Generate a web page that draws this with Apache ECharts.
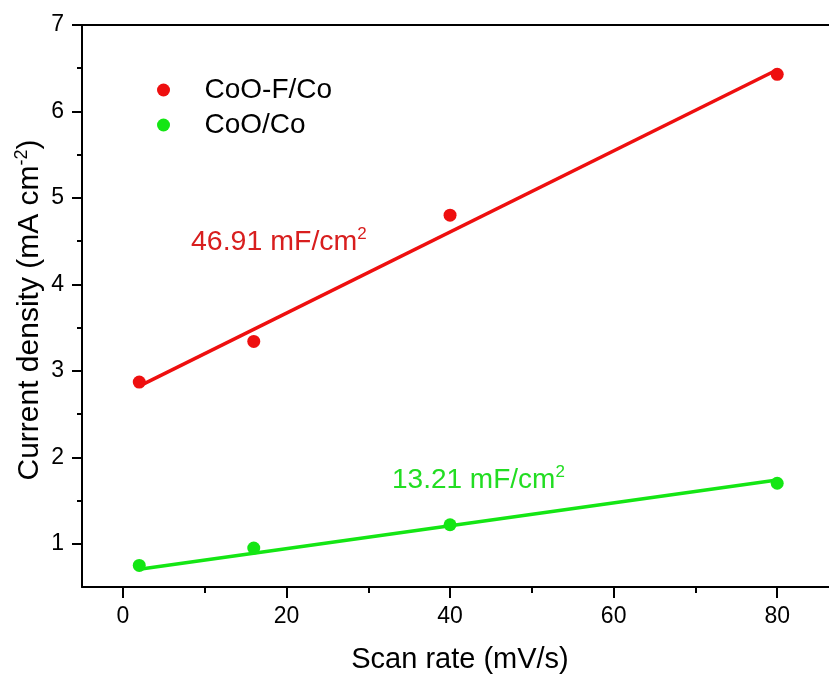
<!DOCTYPE html>
<html>
<head>
<meta charset="utf-8">
<title>Double-layer capacitance</title>
<script src="https://cdn.jsdelivr.net/npm/echarts@6/dist/echarts.min.js"></script>
<style>
  html, body { margin: 0; padding: 0; background: #fff; }
  #chart { width: 829px; height: 677px; }
</style>
</head>
<body>
<div id="chart"></div>
<script>
// Scan rates (mV/s) and measured current densities (mA cm-2)
const scanRate = [2, 16, 40, 80];
const coofCo = [2.87, 3.34, 4.80, 6.43];
const cooCo = [0.75, 0.95, 1.22, 1.70];

// Linear fits: slope in mF/cm2 (as labelled) and intercept in mA cm-2
const fitSlope = [46.91, 13.21];
const fitIntercept = [2.73, 0.68];
const fitSpan = [2, 80];

// Axis ticks
const xMajor = [0, 20, 40, 60, 80];
const xMinor = [10, 30, 50, 70];
const yMajor = [1, 2, 3, 4, 5, 6, 7];
const yMinor = [1.5, 2.5, 3.5, 4.5, 5.5, 6.5];

const seriesNames = ['CoO-F/Co', 'CoO/Co'];
const colors = ['#ee0f0f', '#14e614'];
const textColors = ['#d81e1e', '#22dd22'];

const FONT = "'Liberation Sans', Arial, sans-serif";

function fitLine(i) {
  return fitSpan.map(x => [x, fitIntercept[i] + fitSlope[i] / 1000 * x]);
}

const chart = echarts.init(document.getElementById('chart'), null, { renderer: 'canvas' });

const axisLine = { show: true, onZero: false, lineStyle: { color: '#000', width: 2 } };
const noLine = { show: false, onZero: false };

const option = {
  animation: false,
  backgroundColor: '#fff',
  textStyle: { fontFamily: FONT },
  grid: {
    left: 82, top: 25, right: -30, bottom: 90,
    containLabel: false, outerBoundsMode: 'none'
  },
  legend: {
    data: seriesNames.map(n => ({ name: n, icon: 'circle' })),
    orient: 'vertical',
    left: 152, top: 70,
    itemWidth: 72, itemHeight: 13, itemGap: 5,
    textStyle: { fontSize: 28, lineHeight: 30, color: '#000', fontFamily: FONT },
    selectedMode: false
  },
  xAxis: [
    {
      type: 'value', position: 'bottom', min: -5, max: 90,
      axisLine: axisLine,
      axisTick: { show: true, inside: false, length: 11, customValues: xMajor,
                  lineStyle: { color: '#000', width: 2 } },
      axisLabel: { customValues: xMajor, fontSize: 23, margin: 18, color: '#000', fontFamily: FONT },
      splitLine: { show: false }
    },
    {
      type: 'value', position: 'bottom', min: -5, max: 90,
      axisLine: noLine,
      axisTick: { show: true, inside: false, length: 6, customValues: xMinor,
                  lineStyle: { color: '#000', width: 2 } },
      axisLabel: { show: false },
      splitLine: { show: false }
    },
    {
      type: 'value', position: 'top', min: -5, max: 90,
      axisLine: axisLine,
      axisTick: { show: false },
      axisLabel: { show: false },
      splitLine: { show: false }
    }
  ],
  yAxis: [
    {
      type: 'value', position: 'left', min: 0.5, max: 7,
      axisLine: axisLine,
      axisTick: { show: true, inside: false, length: 10, customValues: yMajor,
                  lineStyle: { color: '#000', width: 2 } },
      axisLabel: { customValues: yMajor, fontSize: 23, margin: 18, color: '#000', fontFamily: FONT },
      splitLine: { show: false }
    },
    {
      type: 'value', position: 'left', min: 0.5, max: 7,
      axisLine: noLine,
      axisTick: { show: true, inside: false, length: 5, customValues: yMinor,
                  lineStyle: { color: '#000', width: 2 } },
      axisLabel: { show: false },
      splitLine: { show: false }
    }
  ],
  series: [
    {
      name: 'fit-' + seriesNames[0], type: 'line', data: fitLine(0),
      showSymbol: false, symbol: 'none', z: 2,
      lineStyle: { color: colors[0], width: 3.5 }
    },
    {
      name: seriesNames[0], type: 'scatter', z: 3,
      data: scanRate.map((x, i) => [x, coofCo[i]]),
      symbol: 'circle', symbolSize: 13,
      itemStyle: { color: colors[0], opacity: 1 }
    },
    {
      name: 'fit-' + seriesNames[1], type: 'line', data: fitLine(1),
      showSymbol: false, symbol: 'none', z: 2,
      lineStyle: { color: colors[1], width: 3.5 }
    },
    {
      name: seriesNames[1], type: 'scatter', z: 3,
      data: scanRate.map((x, i) => [x, cooCo[i]]),
      symbol: 'circle', symbolSize: 13,
      itemStyle: { color: colors[1], opacity: 1 }
    }
  ],
  graphic: [
    {
      type: 'text', left: 191, top: 226,
      style: {
        text: '{v|' + fitSlope[0].toFixed(2) + ' mF/cm}{s|2}',
        rich: {
          v: { fontSize: 28.5, lineHeight: 32, fill: textColors[0], fontFamily: FONT },
          s: { fontSize: 17, lineHeight: 17, verticalAlign: 'top', fill: textColors[0], fontFamily: FONT }
        }
      }
    },
    {
      type: 'text', left: 392, top: 464,
      style: {
        text: '{v|' + fitSlope[1].toFixed(2) + ' mF/cm}{s|2}',
        rich: {
          v: { fontSize: 28, lineHeight: 32, fill: textColors[1], fontFamily: FONT },
          s: { fontSize: 17, lineHeight: 17, verticalAlign: 'top', fill: textColors[1], fontFamily: FONT }
        }
      }
    },
    {
      type: 'text', x: 460, y: 660,
      style: {
        text: 'Scan rate (mV/s)', fontSize: 29, fill: '#000', fontFamily: FONT,
        align: 'center', verticalAlign: 'middle'
      }
    },
    {
      type: 'text', x: 30, y: 310, rotation: Math.PI / 2,
      style: {
        text: '{a|Current density (mA cm}{s|-2}{a|)}',
        align: 'center', verticalAlign: 'middle',
        rich: {
          a: { fontSize: 30, lineHeight: 34, fill: '#000', fontFamily: FONT },
          s: { fontSize: 18, lineHeight: 18, verticalAlign: 'top', fill: '#000', fontFamily: FONT }
        }
      }
    }
  ]
};

chart.setOption(option);
</script>
</body>
</html>
